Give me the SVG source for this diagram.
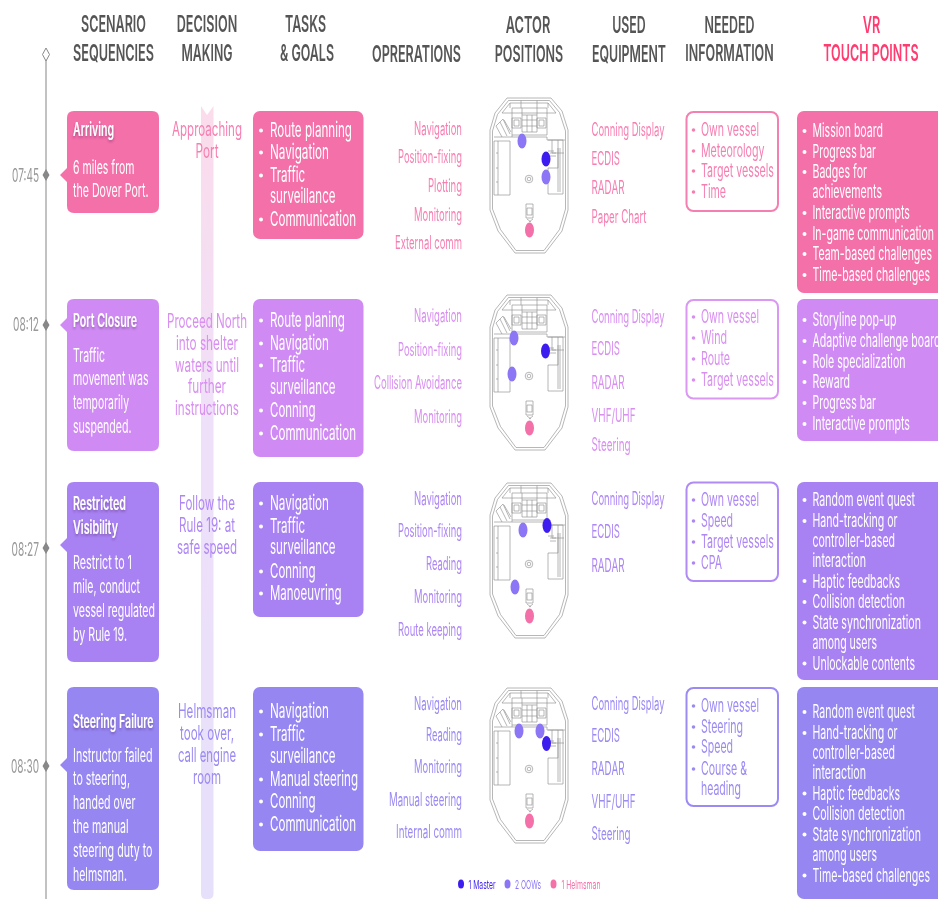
<svg xmlns="http://www.w3.org/2000/svg" width="938" height="899" viewBox="0 0 938 899">
<style>
text{font-family:"Inter","Noto Sans","Liberation Sans",sans-serif;font-size:20.5px}
.h{font-size:22.5px;font-weight:600;fill:#555;text-anchor:middle}
.vr{fill:#FF3B70}
.tm{font-size:18px;fill:#999;text-anchor:end}
.w{fill:#fff}
.s{font-size:18.5px;fill:#fff}
.t{font-size:18.5px;fill:#fff;font-weight:600;filter:url(#ts)}
.d{font-size:19.5px;text-anchor:middle}
.o{font-size:18px;text-anchor:end}
.e{font-size:18px}
.i{font-size:18.5px}
.v{font-size:18.5px;fill:#fff}
.l{font-size:12px}
.c1{fill:#F46FA8}.c2{fill:#CF8BF3}.c3{fill:#A882F3}.c4{fill:#9586F2}
.x1{fill:#F67FB2}.x2{fill:#D98FF0}.x3{fill:#AE87F4}.x4{fill:#9C8AF3}
.b1,.b2,.b3,.b4{fill:#fff;stroke-width:2}
.b1{stroke:#F67FB2}.b2{stroke:#DA98F2}.b3{stroke:#B08BF5}.b4{stroke:#9C8AF3}
.pl{fill:none;stroke:#909090;stroke-width:.65}
.m{fill:#3E1FF0}.oo{fill:#8C76F5}.hm{fill:#F46FA8}
</style>
<defs>
<filter id="soft" filterUnits="userSpaceOnUse" x="0" y="0" width="938" height="899"><feGaussianBlur stdDeviation="0.35"/></filter>
<filter id="ts" x="-10%" y="-30%" width="120%" height="170%"><feDropShadow dx="0" dy="2" stdDeviation="1.2" flood-color="#5a2a70" flood-opacity=".45"/></filter>
<linearGradient id="bar" x1="0" y1="0" x2="0" y2="1"><stop offset="0" stop-color="#FBDCEB"/><stop offset=".4" stop-color="#EFE0F9"/><stop offset="1" stop-color="#E6E0FB"/></linearGradient>
<g id="plan" class="pl">
<path d="M17 0H61L72 13L78 32V112L72 133L55 155H25L8 133L0 112V32L5 15Z"/>
<path d="M18.500 2.500H59.500L69.500 14.500L75.500 33V111L69.500 131.500L54 152.500H26L10.500 131.500L2.500 111V33L7.500 16.500Z"/>
<path d="M20 5H58L66 15M12 15L20 5M20 5V10M31 2.500V10M47 2.500V10M58 5V10M12 15H66"/>
<path d="M22 10H57V37H22ZM32 10V34H47V10M32 17H47M32 22H47M32 28H47M37 17V34M42 17V34"/>
<path d="M22 20H31V30H22ZM24 22H29V28H24ZM47 20H56V30H47ZM49 22H54V28H49Z"/>
<path d="M4 39H22V37M22 39H57V42H75"/>
<path d="M6 28L13 21L20 36M10 24L17 38M14 22L21 34M6 28L12 39"/>
<path d="M4 43H20V97H4ZM8 43V97M6 55H8M6 70H8M6 84H8"/>
<path d="M58 42H73V96H58V70H68V42M68 50V94M70 50V94M62 42V55H74M58 53H64M60 55H66M60 58H66"/>
<circle cx="39" cy="81" r="3.800"/><circle cx="39" cy="81" r="1.800"/>
<path d="M36 106H43V120H36ZM37 110H42V117H37Z"/>
<path d="M37 121L41 124M43 121L39 124"/>
</g>
</defs>
<rect width="938" height="899" fill="#fff"/>
<g filter="url(#soft)">
<g id="connectors">
<line x1="46" y1="60" x2="46" y2="899" stroke="#999" stroke-width="1.2"/>
<path d="M46 48L49.500 54.500L46 61L42.500 54.500Z" fill="#fff" stroke="#888"/>
<path d="M46 169L49.500 175L46 181L42.500 175ZM46 319L49.500 325L46 331L42.500 325ZM46 542L49.500 548L46 554L42.500 548ZM46 760L49.500 766L46 772L42.500 766Z" fill="#888"/>
<path d="M201 106L207 115L213.500 106V894Q213.500 899 208 899H206Q201 899 201 894Z" fill="url(#bar)"/>
</g>
<g id="headers">
<text class="h" x="113.500" y="32" textLength="65" lengthAdjust="spacingAndGlyphs">SCENARIO</text>
<text class="h" x="113.500" y="60.500" textLength="81" lengthAdjust="spacingAndGlyphs">SEQUENCIES</text>
<text class="h" x="207" y="32" textLength="60.500" lengthAdjust="spacingAndGlyphs">DECISION</text>
<text class="h" x="207" y="60.500" textLength="51" lengthAdjust="spacingAndGlyphs">MAKING</text>
<text class="h" x="305.500" y="32" textLength="41" lengthAdjust="spacingAndGlyphs">TASKS</text>
<text class="h" x="307" y="60.500" textLength="54" lengthAdjust="spacingAndGlyphs">&amp; GOALS</text>
<text class="h" x="416.500" y="62" textLength="89" lengthAdjust="spacingAndGlyphs">OPRERATIONS</text>
<text class="h" x="528" y="33" textLength="44.500" lengthAdjust="spacingAndGlyphs">ACTOR</text>
<text class="h" x="529" y="62" textLength="68.500" lengthAdjust="spacingAndGlyphs">POSITIONS</text>
<text class="h" x="629" y="33" textLength="33.500" lengthAdjust="spacingAndGlyphs">USED</text>
<text class="h" x="629" y="62" textLength="74" lengthAdjust="spacingAndGlyphs">EQUIPMENT</text>
<text class="h" x="729.500" y="33" textLength="50" lengthAdjust="spacingAndGlyphs">NEEDED</text>
<text class="h" x="729.500" y="61" textLength="88.500" lengthAdjust="spacingAndGlyphs">INFORMATION</text>
<text class="h vr" x="871.500" y="33" textLength="17.500" lengthAdjust="spacingAndGlyphs">VR</text>
<text class="h vr" x="871" y="61" textLength="95.500" lengthAdjust="spacingAndGlyphs">TOUCH POINTS</text>
</g>
<g id="times">
<text class="tm" x="39" y="182" textLength="27" lengthAdjust="spacingAndGlyphs">07:45</text>
<text class="tm" x="39" y="331" textLength="26" lengthAdjust="spacingAndGlyphs">08:12</text>
<text class="tm" x="39" y="556" textLength="27.500" lengthAdjust="spacingAndGlyphs">08:27</text>
<text class="tm" x="39" y="773" textLength="28" lengthAdjust="spacingAndGlyphs">08:30</text>
</g>

<g id="scenario-1">
<path class="c1" d="M74 111H152Q159 111 159 118V206Q159 213 152 213H74Q67 213 67 206V182L60 175L67 168V118Q67 111 74 111Z"/>
<text class="t" x="73" y="136" textLength="41" lengthAdjust="spacingAndGlyphs">Arriving</text>
<text class="s" x="73" y="174" textLength="61.500" lengthAdjust="spacingAndGlyphs">6 miles from</text>
<text class="s" x="73" y="197" textLength="75.500" lengthAdjust="spacingAndGlyphs">the Dover Port.</text>
</g>
<g id="scenario-2">
<path class="c2" d="M74 299H152Q159 299 159 306V444Q159 451 152 451H74Q67 451 67 444V332L60 325L67 318V306Q67 299 74 299Z"/>
<text class="t" x="73" y="327" textLength="64" lengthAdjust="spacingAndGlyphs">Port Closure</text>
<text class="s" x="73" y="362" textLength="32" lengthAdjust="spacingAndGlyphs">Traffic</text>
<text class="s" x="73" y="385" textLength="75.500" lengthAdjust="spacingAndGlyphs">movement was</text>
<text class="s" x="73" y="409" textLength="56" lengthAdjust="spacingAndGlyphs">temporarily</text>
<text class="s" x="73" y="433" textLength="58.500" lengthAdjust="spacingAndGlyphs">suspended.</text>
</g>
<g id="scenario-3">
<path class="c3" d="M74 482H152Q159 482 159 489V655Q159 662 152 662H74Q67 662 67 655V552L60 545L67 538V489Q67 482 74 482Z"/>
<text class="t" x="73" y="510" textLength="53" lengthAdjust="spacingAndGlyphs">Restricted</text>
<text class="t" x="73" y="534" textLength="45" lengthAdjust="spacingAndGlyphs">Visibility</text>
<text class="s" x="73" y="569" textLength="59" lengthAdjust="spacingAndGlyphs">Restrict to 1</text>
<text class="s" x="73" y="593" textLength="67" lengthAdjust="spacingAndGlyphs">mile, conduct</text>
<text class="s" x="73" y="617" textLength="82" lengthAdjust="spacingAndGlyphs">vessel regulated</text>
<text class="s" x="73" y="641" textLength="54" lengthAdjust="spacingAndGlyphs">by Rule 19.</text>
</g>
<g id="scenario-4">
<path class="c4" d="M74 687H152Q159 687 159 694V883Q159 890 152 890H74Q67 890 67 883V772L60 765L67 758V694Q67 687 74 687Z"/>
<text class="t" x="73" y="728" textLength="80.500" lengthAdjust="spacingAndGlyphs">Steering Failure</text>
<text class="s" x="73" y="762" textLength="79.500" lengthAdjust="spacingAndGlyphs">Instructor failed</text>
<text class="s" x="73" y="785" textLength="57" lengthAdjust="spacingAndGlyphs">to steering,</text>
<text class="s" x="73" y="809" textLength="62.500" lengthAdjust="spacingAndGlyphs">handed over</text>
<text class="s" x="73" y="833" textLength="55.500" lengthAdjust="spacingAndGlyphs">the manual</text>
<text class="s" x="73" y="857" textLength="79.500" lengthAdjust="spacingAndGlyphs">steering duty to</text>
<text class="s" x="73" y="881" textLength="54" lengthAdjust="spacingAndGlyphs">helmsman.</text>
</g>

<g id="decision-1" class="x1">
<text class="d" x="207" y="136" textLength="70" lengthAdjust="spacingAndGlyphs">Approaching</text>
<text class="d" x="207" y="158" textLength="23" lengthAdjust="spacingAndGlyphs">Port</text>
</g>
<g id="decision-2" class="x2">
<text class="d" x="207" y="328" textLength="80" lengthAdjust="spacingAndGlyphs">Proceed North</text>
<text class="d" x="207" y="350" textLength="62" lengthAdjust="spacingAndGlyphs">into shelter</text>
<text class="d" x="207" y="372" textLength="64" lengthAdjust="spacingAndGlyphs">waters until</text>
<text class="d" x="207" y="393" textLength="38" lengthAdjust="spacingAndGlyphs">further</text>
<text class="d" x="207" y="415" textLength="64" lengthAdjust="spacingAndGlyphs">instructions</text>
</g>
<g id="decision-3" class="x3">
<text class="d" x="207" y="510" textLength="56" lengthAdjust="spacingAndGlyphs">Follow the</text>
<text class="d" x="207" y="532" textLength="56" lengthAdjust="spacingAndGlyphs">Rule 19: at</text>
<text class="d" x="207" y="554" textLength="60" lengthAdjust="spacingAndGlyphs">safe speed</text>
</g>
<g id="decision-4" class="x4">
<text class="d" x="207" y="718" textLength="58" lengthAdjust="spacingAndGlyphs">Helmsman</text>
<text class="d" x="207" y="740" textLength="54" lengthAdjust="spacingAndGlyphs">took over,</text>
<text class="d" x="207" y="762" textLength="58" lengthAdjust="spacingAndGlyphs">call engine</text>
<text class="d" x="207" y="784" textLength="28" lengthAdjust="spacingAndGlyphs">room</text>
</g>

<g id="tasks-1">
<rect class="c1" x="253" y="111" width="110.500" height="128" rx="7"/>
<g class="w"><circle cx="261" cy="130.500" r="2"/><circle cx="261" cy="152.500" r="2"/><circle cx="261" cy="175.500" r="2"/><circle cx="261" cy="219.500" r="2"/></g>
<g class="w">
<text x="270" y="137" textLength="82" lengthAdjust="spacingAndGlyphs">Route planning</text>
<text x="270" y="159" textLength="59" lengthAdjust="spacingAndGlyphs">Navigation</text>
<text x="270" y="182" textLength="35" lengthAdjust="spacingAndGlyphs">Traffic</text>
<text x="270" y="203" textLength="65.500" lengthAdjust="spacingAndGlyphs">surveillance</text>
<text x="270" y="226" textLength="86" lengthAdjust="spacingAndGlyphs">Communication</text>
</g>
</g>
<g id="tasks-2">
<rect class="c2" x="253" y="299" width="110.500" height="158" rx="7"/>
<g class="w"><circle cx="261" cy="320.500" r="2"/><circle cx="261" cy="343.500" r="2"/><circle cx="261" cy="365.500" r="2"/><circle cx="261" cy="410.500" r="2"/><circle cx="261" cy="433.500" r="2"/></g>
<g class="w">
<text x="270" y="327" textLength="75" lengthAdjust="spacingAndGlyphs">Route planing</text>
<text x="270" y="350" textLength="59" lengthAdjust="spacingAndGlyphs">Navigation</text>
<text x="270" y="372" textLength="35" lengthAdjust="spacingAndGlyphs">Traffic</text>
<text x="270" y="394" textLength="65.500" lengthAdjust="spacingAndGlyphs">surveillance</text>
<text x="270" y="417" textLength="45.500" lengthAdjust="spacingAndGlyphs">Conning</text>
<text x="270" y="440" textLength="86" lengthAdjust="spacingAndGlyphs">Communication</text>
</g>
</g>
<g id="tasks-3">
<rect class="c3" x="253" y="482" width="110.500" height="135" rx="7"/>
<g class="w"><circle cx="261" cy="503.500" r="2"/><circle cx="261" cy="526.500" r="2"/><circle cx="261" cy="571.500" r="2"/><circle cx="261" cy="593.500" r="2"/></g>
<g class="w">
<text x="270" y="510" textLength="59" lengthAdjust="spacingAndGlyphs">Navigation</text>
<text x="270" y="533" textLength="35" lengthAdjust="spacingAndGlyphs">Traffic</text>
<text x="270" y="554" textLength="65.500" lengthAdjust="spacingAndGlyphs">surveillance</text>
<text x="270" y="578" textLength="45.500" lengthAdjust="spacingAndGlyphs">Conning</text>
<text x="270" y="600" textLength="71.500" lengthAdjust="spacingAndGlyphs">Manoeuvring</text>
</g>
</g>
<g id="tasks-4">
<rect class="c4" x="253" y="687" width="110.500" height="164" rx="7"/>
<g class="w"><circle cx="261" cy="711.500" r="2"/><circle cx="261" cy="734.500" r="2"/><circle cx="261" cy="779.500" r="2"/><circle cx="261" cy="801.500" r="2"/><circle cx="261" cy="824.500" r="2"/></g>
<g class="w">
<text x="270" y="718" textLength="59" lengthAdjust="spacingAndGlyphs">Navigation</text>
<text x="270" y="741" textLength="35" lengthAdjust="spacingAndGlyphs">Traffic</text>
<text x="270" y="763" textLength="65.500" lengthAdjust="spacingAndGlyphs">surveillance</text>
<text x="270" y="786" textLength="88" lengthAdjust="spacingAndGlyphs">Manual steering</text>
<text x="270" y="808" textLength="45.500" lengthAdjust="spacingAndGlyphs">Conning</text>
<text x="270" y="831" textLength="86" lengthAdjust="spacingAndGlyphs">Communication</text>
</g>
</g>

<g id="operations-1" class="x1">
<text class="o" x="462" y="135" textLength="48" lengthAdjust="spacingAndGlyphs">Navigation</text>
<text class="o" x="462" y="163" textLength="64" lengthAdjust="spacingAndGlyphs">Position-fixing</text>
<text class="o" x="462" y="192" textLength="34" lengthAdjust="spacingAndGlyphs">Plotting</text>
<text class="o" x="462" y="221" textLength="48" lengthAdjust="spacingAndGlyphs">Monitoring</text>
<text class="o" x="462" y="249" textLength="67" lengthAdjust="spacingAndGlyphs">External comm</text>
</g>
<g id="operations-2" class="x2">
<text class="o" x="462" y="322" textLength="48" lengthAdjust="spacingAndGlyphs">Navigation</text>
<text class="o" x="462" y="356" textLength="64" lengthAdjust="spacingAndGlyphs">Position-fixing</text>
<text class="o" x="462" y="389" textLength="88" lengthAdjust="spacingAndGlyphs">Collision Avoidance</text>
<text class="o" x="462" y="423" textLength="48" lengthAdjust="spacingAndGlyphs">Monitoring</text>
</g>
<g id="operations-3" class="x3">
<text class="o" x="462" y="505" textLength="48" lengthAdjust="spacingAndGlyphs">Navigation</text>
<text class="o" x="462" y="537" textLength="64" lengthAdjust="spacingAndGlyphs">Position-fixing</text>
<text class="o" x="462" y="570" textLength="36" lengthAdjust="spacingAndGlyphs">Reading</text>
<text class="o" x="462" y="603" textLength="48" lengthAdjust="spacingAndGlyphs">Monitoring</text>
<text class="o" x="462" y="636" textLength="64" lengthAdjust="spacingAndGlyphs">Route keeping</text>
</g>
<g id="operations-4" class="x4">
<text class="o" x="462" y="710" textLength="48" lengthAdjust="spacingAndGlyphs">Navigation</text>
<text class="o" x="462" y="741" textLength="36" lengthAdjust="spacingAndGlyphs">Reading</text>
<text class="o" x="462" y="773" textLength="48" lengthAdjust="spacingAndGlyphs">Monitoring</text>
<text class="o" x="462" y="806" textLength="73" lengthAdjust="spacingAndGlyphs">Manual steering</text>
<text class="o" x="462" y="838" textLength="66" lengthAdjust="spacingAndGlyphs">Internal comm</text>
</g>

<g id="positions-1">
<use href="#plan" x="490" y="98"/>
<ellipse class="oo" cx="522" cy="141" rx="4.500" ry="7.500"/><ellipse class="m" cx="546" cy="159" rx="4.500" ry="7.500"/><ellipse class="oo" cx="546" cy="177" rx="4.500" ry="7.500"/><ellipse class="hm" cx="529.500" cy="230" rx="4.500" ry="7.500"/>
</g>
<g id="positions-2">
<use href="#plan" x="490" y="295"/>
<ellipse class="oo" cx="514" cy="338" rx="4.500" ry="7.500"/><ellipse class="m" cx="545.500" cy="351" rx="4.500" ry="7.500"/><ellipse class="oo" cx="512" cy="374" rx="4.500" ry="7.500"/><ellipse class="hm" cx="529.500" cy="428" rx="4.500" ry="7.500"/>
</g>
<g id="positions-3">
<use href="#plan" x="490" y="483"/>
<ellipse class="oo" cx="523" cy="530" rx="4.500" ry="7.500"/><ellipse class="m" cx="547" cy="525.500" rx="4.500" ry="7.500"/><ellipse class="oo" cx="515" cy="587" rx="4.500" ry="7.500"/><ellipse class="hm" cx="529.500" cy="616" rx="4.500" ry="7.500"/>
</g>
<g id="positions-4">
<use href="#plan" x="490" y="688"/>
<ellipse class="oo" cx="519" cy="731" rx="4.500" ry="7.500"/><ellipse class="oo" cx="540" cy="731" rx="4.500" ry="7.500"/><ellipse class="m" cx="546.500" cy="743.500" rx="4.500" ry="7.500"/><ellipse class="hm" cx="529.500" cy="821" rx="4.500" ry="7.500"/>
</g>

<g id="equipment-1" class="x1">
<text class="e" x="591.500" y="136" textLength="73" lengthAdjust="spacingAndGlyphs">Conning Display</text>
<text class="e" x="591.500" y="165" textLength="28.500" lengthAdjust="spacingAndGlyphs">ECDIS</text>
<text class="e" x="591.500" y="194" textLength="33" lengthAdjust="spacingAndGlyphs">RADAR</text>
<text class="e" x="591.500" y="223" textLength="55" lengthAdjust="spacingAndGlyphs">Paper Chart</text>
</g>
<g id="equipment-2" class="x2">
<text class="e" x="591.500" y="323" textLength="73" lengthAdjust="spacingAndGlyphs">Conning Display</text>
<text class="e" x="591.500" y="355" textLength="28.500" lengthAdjust="spacingAndGlyphs">ECDIS</text>
<text class="e" x="591.500" y="389" textLength="33" lengthAdjust="spacingAndGlyphs">RADAR</text>
<text class="e" x="591.500" y="422" textLength="44" lengthAdjust="spacingAndGlyphs">VHF/UHF</text>
<text class="e" x="591.500" y="451" textLength="39" lengthAdjust="spacingAndGlyphs">Steering</text>
</g>
<g id="equipment-3" class="x3">
<text class="e" x="591.500" y="505" textLength="73" lengthAdjust="spacingAndGlyphs">Conning Display</text>
<text class="e" x="591.500" y="538" textLength="28.500" lengthAdjust="spacingAndGlyphs">ECDIS</text>
<text class="e" x="591.500" y="572" textLength="33" lengthAdjust="spacingAndGlyphs">RADAR</text>
</g>
<g id="equipment-4" class="x4">
<text class="e" x="591.500" y="710" textLength="73" lengthAdjust="spacingAndGlyphs">Conning Display</text>
<text class="e" x="591.500" y="742" textLength="28.500" lengthAdjust="spacingAndGlyphs">ECDIS</text>
<text class="e" x="591.500" y="775" textLength="33" lengthAdjust="spacingAndGlyphs">RADAR</text>
<text class="e" x="591.500" y="808" textLength="44" lengthAdjust="spacingAndGlyphs">VHF/UHF</text>
<text class="e" x="591.500" y="840" textLength="39" lengthAdjust="spacingAndGlyphs">Steering</text>
</g>

<g id="information-1" class="x1">
<rect class="b1" x="686.500" y="112" width="91.500" height="99" rx="7"/>
<circle cx="693.500" cy="130" r="1.800"/><circle cx="693.500" cy="151" r="1.800"/><circle cx="693.500" cy="171" r="1.800"/><circle cx="693.500" cy="192" r="1.800"/>
<text class="i" x="701" y="135.500" textLength="58" lengthAdjust="spacingAndGlyphs">Own vessel</text>
<text class="i" x="701" y="156.500" textLength="63.500" lengthAdjust="spacingAndGlyphs">Meteorology</text>
<text class="i" x="701" y="177" textLength="73" lengthAdjust="spacingAndGlyphs">Target vessels</text>
<text class="i" x="701" y="198" textLength="25" lengthAdjust="spacingAndGlyphs">Time</text>
</g>
<g id="information-2" class="x2">
<rect class="b2" x="686.500" y="300" width="91.500" height="98.500" rx="7"/>
<circle cx="693.500" cy="317" r="1.800"/><circle cx="693.500" cy="338" r="1.800"/><circle cx="693.500" cy="359" r="1.800"/><circle cx="693.500" cy="380" r="1.800"/>
<text class="i" x="701" y="323" textLength="58" lengthAdjust="spacingAndGlyphs">Own vessel</text>
<text class="i" x="701" y="344" textLength="26" lengthAdjust="spacingAndGlyphs">Wind</text>
<text class="i" x="701" y="365" textLength="29" lengthAdjust="spacingAndGlyphs">Route</text>
<text class="i" x="701" y="386" textLength="73" lengthAdjust="spacingAndGlyphs">Target vessels</text>
</g>
<g id="information-3" class="x3">
<rect class="b3" x="686.500" y="482.500" width="91.500" height="98.500" rx="7"/>
<circle cx="693.500" cy="500" r="1.800"/><circle cx="693.500" cy="521" r="1.800"/><circle cx="693.500" cy="542" r="1.800"/><circle cx="693.500" cy="563" r="1.800"/>
<text class="i" x="701" y="506" textLength="58" lengthAdjust="spacingAndGlyphs">Own vessel</text>
<text class="i" x="701" y="527" textLength="32" lengthAdjust="spacingAndGlyphs">Speed</text>
<text class="i" x="701" y="548" textLength="73" lengthAdjust="spacingAndGlyphs">Target vessels</text>
<text class="i" x="701" y="569" textLength="21" lengthAdjust="spacingAndGlyphs">CPA</text>
</g>
<g id="information-4" class="x4">
<rect class="b4" x="686.500" y="688" width="91.500" height="118" rx="7"/>
<circle cx="693.500" cy="706" r="1.800"/><circle cx="693.500" cy="727" r="1.800"/><circle cx="693.500" cy="747" r="1.800"/><circle cx="693.500" cy="769" r="1.800"/>
<text class="i" x="701" y="712" textLength="58" lengthAdjust="spacingAndGlyphs">Own vessel</text>
<text class="i" x="701" y="733" textLength="42" lengthAdjust="spacingAndGlyphs">Steering</text>
<text class="i" x="701" y="753" textLength="32" lengthAdjust="spacingAndGlyphs">Speed</text>
<text class="i" x="701" y="775" textLength="46" lengthAdjust="spacingAndGlyphs">Course &amp;</text>
<text class="i" x="701" y="795" textLength="40" lengthAdjust="spacingAndGlyphs">heading</text>
</g>

<g id="vr-1">
<rect class="c1" x="797" y="111" width="160" height="182" rx="7"/>
<g class="w"><circle cx="804.500" cy="131" r="2"/><circle cx="804.500" cy="152" r="2"/><circle cx="804.500" cy="172" r="2"/><circle cx="804.500" cy="213" r="2"/><circle cx="804.500" cy="234" r="2"/><circle cx="804.500" cy="254" r="2"/><circle cx="804.500" cy="275" r="2"/>
<text class="v" x="812.500" y="137" textLength="70.500" lengthAdjust="spacingAndGlyphs">Mission board</text>
<text class="v" x="812.500" y="158" textLength="63.500" lengthAdjust="spacingAndGlyphs">Progress bar</text>
<text class="v" x="812.500" y="178" textLength="54.500" lengthAdjust="spacingAndGlyphs">Badges for</text>
<text class="v" x="812.500" y="198" textLength="69.500" lengthAdjust="spacingAndGlyphs">achievements</text>
<text class="v" x="812.500" y="219" textLength="97.500" lengthAdjust="spacingAndGlyphs">Interactive prompts</text>
<text class="v" x="812.500" y="240" textLength="121.500" lengthAdjust="spacingAndGlyphs">In-game communication</text>
<text class="v" x="812.500" y="260" textLength="119.500" lengthAdjust="spacingAndGlyphs">Team-based challenges</text>
<text class="v" x="812.500" y="281" textLength="117.500" lengthAdjust="spacingAndGlyphs">Time-based challenges</text>
</g>
</g>
<g id="vr-2">
<rect class="c2" x="797" y="299" width="160" height="142" rx="7"/>
<g class="w"><circle cx="804.500" cy="320" r="2"/><circle cx="804.500" cy="341" r="2"/><circle cx="804.500" cy="362" r="2"/><circle cx="804.500" cy="382" r="2"/><circle cx="804.500" cy="403" r="2"/><circle cx="804.500" cy="424" r="2"/>
<text class="v" x="812.500" y="326" textLength="84" lengthAdjust="spacingAndGlyphs">Storyline pop-up</text>
<text class="v" x="812.500" y="347" textLength="128" lengthAdjust="spacingAndGlyphs">Adaptive challenge board</text>
<text class="v" x="812.500" y="368" textLength="93" lengthAdjust="spacingAndGlyphs">Role specialization</text>
<text class="v" x="812.500" y="388" textLength="37.500" lengthAdjust="spacingAndGlyphs">Reward</text>
<text class="v" x="812.500" y="409" textLength="63.500" lengthAdjust="spacingAndGlyphs">Progress bar</text>
<text class="v" x="812.500" y="430" textLength="97.500" lengthAdjust="spacingAndGlyphs">Interactive prompts</text>
</g>
</g>
<g id="vr-3">
<rect class="c3" x="797" y="482" width="160" height="198" rx="7"/>
<g class="w"><circle cx="804.500" cy="500" r="2"/><circle cx="804.500" cy="521" r="2"/><circle cx="804.500" cy="581" r="2"/><circle cx="804.500" cy="602" r="2"/><circle cx="804.500" cy="622.500" r="2"/><circle cx="804.500" cy="663.500" r="2"/>
<text class="v" x="812.500" y="506" textLength="102.500" lengthAdjust="spacingAndGlyphs">Random event quest</text>
<text class="v" x="812.500" y="527" textLength="85" lengthAdjust="spacingAndGlyphs">Hand-tracking or</text>
<text class="v" x="812.500" y="547" textLength="82.500" lengthAdjust="spacingAndGlyphs">controller-based</text>
<text class="v" x="812.500" y="567" textLength="53.500" lengthAdjust="spacingAndGlyphs">interaction</text>
<text class="v" x="812.500" y="587.500" textLength="87.500" lengthAdjust="spacingAndGlyphs">Haptic feedbacks</text>
<text class="v" x="812.500" y="608" textLength="92.500" lengthAdjust="spacingAndGlyphs">Collision detection</text>
<text class="v" x="812.500" y="628.500" textLength="108.500" lengthAdjust="spacingAndGlyphs">State synchronization</text>
<text class="v" x="812.500" y="649" textLength="64.500" lengthAdjust="spacingAndGlyphs">among users</text>
<text class="v" x="812.500" y="669.500" textLength="102.500" lengthAdjust="spacingAndGlyphs">Unlockable contents</text>
</g>
</g>
<g id="vr-4">
<rect class="c4" x="797" y="687" width="160" height="212" rx="7"/>
<g class="w"><circle cx="804.500" cy="712" r="2"/><circle cx="804.500" cy="733" r="2"/><circle cx="804.500" cy="793.500" r="2"/><circle cx="804.500" cy="814" r="2"/><circle cx="804.500" cy="834.500" r="2"/><circle cx="804.500" cy="875.500" r="2"/>
<text class="v" x="812.500" y="718" textLength="102.500" lengthAdjust="spacingAndGlyphs">Random event quest</text>
<text class="v" x="812.500" y="739" textLength="85" lengthAdjust="spacingAndGlyphs">Hand-tracking or</text>
<text class="v" x="812.500" y="759" textLength="82.500" lengthAdjust="spacingAndGlyphs">controller-based</text>
<text class="v" x="812.500" y="779" textLength="53.500" lengthAdjust="spacingAndGlyphs">interaction</text>
<text class="v" x="812.500" y="799.500" textLength="87.500" lengthAdjust="spacingAndGlyphs">Haptic feedbacks</text>
<text class="v" x="812.500" y="820" textLength="92.500" lengthAdjust="spacingAndGlyphs">Collision detection</text>
<text class="v" x="812.500" y="840.500" textLength="108.500" lengthAdjust="spacingAndGlyphs">State synchronization</text>
<text class="v" x="812.500" y="861" textLength="64.500" lengthAdjust="spacingAndGlyphs">among users</text>
<text class="v" x="812.500" y="881.500" textLength="117.500" lengthAdjust="spacingAndGlyphs">Time-based challenges</text>
</g>
</g>

<g id="legend">
<ellipse class="m" cx="461" cy="884" rx="3" ry="4.500"/>
<text class="l" x="468.500" y="888.500" textLength="27" lengthAdjust="spacingAndGlyphs" fill="#3E1FF0">1 Master</text>
<ellipse class="oo" cx="507.500" cy="884" rx="3" ry="4.500"/>
<text class="l" x="515" y="888.500" textLength="26" lengthAdjust="spacingAndGlyphs" fill="#8C76F5">2 OOWs</text>
<ellipse class="hm" cx="553.500" cy="884" rx="3" ry="4.500"/>
<text class="l" x="561.500" y="888.500" textLength="39" lengthAdjust="spacingAndGlyphs" fill="#F46FA8">1 Helmsman</text>
</g>
</g>
</svg>
